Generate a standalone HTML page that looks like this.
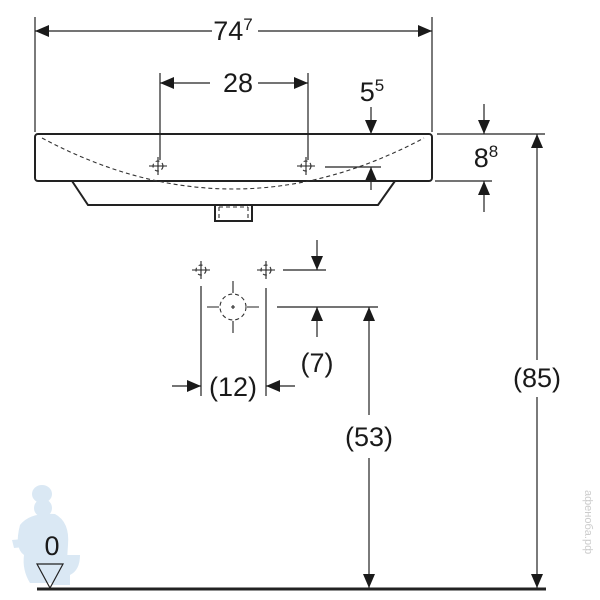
<!DOCTYPE html>
<html><head><style>html,body{margin:0;padding:0;background:#fff}svg{display:block}</style></head>
<body>
<svg width="600" height="600" viewBox="0 0 600 600" xmlns="http://www.w3.org/2000/svg" font-family="Liberation Sans, sans-serif">
<defs>
<marker id="a" viewBox="0 0 14 12" refX="14" refY="6" markerWidth="15" markerHeight="12" markerUnits="userSpaceOnUse" orient="auto"><path d="M0,0L14,6L0,12z" fill="#1a1a1a"/></marker>
</defs>
<rect width="600" height="600" fill="#fff"/>
<g fill="#d6e6f3" opacity="0.9">
<ellipse cx="42" cy="494" rx="10" ry="9"/>
<ellipse cx="43" cy="508" rx="9" ry="9"/>
<path d="M20,525 Q30,512 55,514 Q70,522 68,545 L66,575 Q60,585 50,583 L30,583 Q22,570 24,555 Q14,548 20,525z"/>
<path d="M12,540 L45,537 L45,545 L14,548z"/>
<path d="M48,555 L80,555 Q80,570 70,575 L70,585 L52,585z"/>
</g>
<g stroke="#222" fill="none" stroke-width="1.2">
<line x1="35" y1="17" x2="35" y2="132"/>
<line x1="432" y1="17" x2="432" y2="132"/>
<line x1="212" y1="31" x2="35" y2="31" marker-end="url(#a)"/>
<line x1="258" y1="31" x2="432" y2="31" marker-end="url(#a)"/>
<line x1="160" y1="73" x2="160" y2="160"/>
<line x1="308" y1="73" x2="308" y2="160"/>
<line x1="210" y1="83" x2="160" y2="83" marker-end="url(#a)"/>
<line x1="258" y1="83" x2="308" y2="83" marker-end="url(#a)"/>
<line x1="371" y1="107" x2="371" y2="134" marker-end="url(#a)"/>
<line x1="371" y1="190" x2="371" y2="167" marker-end="url(#a)"/>
<line x1="325" y1="167" x2="381" y2="167"/>
<line x1="437" y1="134" x2="545" y2="134"/>
<line x1="435" y1="181" x2="492" y2="181"/>
<line x1="484" y1="104" x2="484" y2="134" marker-end="url(#a)"/>
<line x1="484" y1="212" x2="484" y2="181" marker-end="url(#a)"/>
<line x1="537" y1="360" x2="537" y2="134" marker-end="url(#a)"/>
<line x1="537" y1="397" x2="537" y2="588" marker-end="url(#a)"/>
<line x1="369" y1="415" x2="369" y2="307" marker-end="url(#a)"/>
<line x1="369" y1="458" x2="369" y2="588" marker-end="url(#a)"/>
<line x1="277" y1="307" x2="378" y2="307"/>
<line x1="283" y1="270" x2="326" y2="270"/>
<line x1="317" y1="240" x2="317" y2="270" marker-end="url(#a)"/>
<line x1="317" y1="337" x2="317" y2="307" marker-end="url(#a)"/>
<line x1="201" y1="286" x2="201" y2="396"/>
<line x1="266" y1="288" x2="266" y2="396"/>
<line x1="172" y1="386" x2="201" y2="386" marker-end="url(#a)"/>
<line x1="295" y1="386" x2="266" y2="386" marker-end="url(#a)"/>
</g>
<g stroke="#222" fill="none" stroke-width="2">
<rect x="35" y="134" width="397" height="47" rx="3"/>
<path d="M72,181 L88,205 L378,205 L395,181"/>
<path d="M215,205 L215,221 L252,221 L252,205"/>
</g>
<g stroke="#333" fill="none" stroke-width="1.1" stroke-dasharray="4,3">
<path d="M42,138 Q233,240 424,138"/>
<path d="M219,207 L219,220 M248,207 L248,220 M219,207 L248,207"/>
<circle cx="233" cy="307" r="13"/>
<circle cx="158" cy="166" r="5"/>
<circle cx="306" cy="166" r="5"/>
<circle cx="201" cy="270" r="5"/>
<circle cx="266" cy="270" r="5"/>
</g>
<g stroke="#222" stroke-width="1.1">
<path d="M149,166h18M158,157v18M297,166h18M306,157v18M192,270h18M201,261v18M257,270h18M266,261v18"/>
<path d="M207,307h12M247,307h12M233,281v12M233,321v12M231,307h4M233,305v4"/>
</g>
<line x1="37" y1="589" x2="546" y2="589" stroke="#222" stroke-width="3"/>
<path d="M37,564 L63,564 L50,588z" fill="none" stroke="#222" stroke-width="1.2"/>
<g fill="#1a1a1a" font-size="27" text-anchor="middle">
<text x="233" y="40">74<tspan font-size="17" dy="-10">7</tspan></text>
<text x="238" y="92">28</text>
<text x="372" y="101">5<tspan font-size="17" dy="-10">5</tspan></text>
<text x="486" y="167">8<tspan font-size="17" dy="-10">8</tspan></text>
<text x="537" y="387">(85)</text>
<text x="369" y="446">(53)</text>
<text x="317" y="372">(7)</text>
<text x="233" y="396">(12)</text>
<text x="52" y="555">0</text>
</g>
<text x="585" y="490" font-size="11" fill="#ccc" transform="rotate(90 585 490)">aфeнoбa.pф</text>
</svg>
</body></html>
